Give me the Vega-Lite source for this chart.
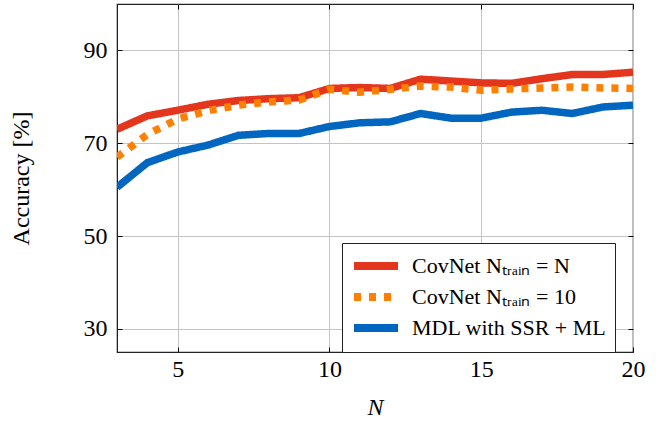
{
  "$schema": "https://vega.github.io/schema/vega-lite/v6.json",
  "width": 516,
  "height": 348,
  "autosize": "none",
  "padding": {"left": 117, "top": 4, "right": 33, "bottom": 72},
  "background": "white",
  "config": {
    "font": "Liberation Serif",
    "view": {"stroke": "#222", "strokeWidth": 1.2},
    "axis": {"labelFont": "Liberation Serif", "titleFont": "Liberation Serif", "labelColor": "black", "titleColor": "black", "titleFontWeight": "normal"},
    "legend": {"labelFont": "Liberation Serif"}
  },
  "data": {"values": [
    {"N": 3, "acc": 60.5, "series": "MDL with SSR + ML"},
    {"N": 4, "acc": 65.8, "series": "MDL with SSR + ML"},
    {"N": 5, "acc": 68.1, "series": "MDL with SSR + ML"},
    {"N": 6, "acc": 69.6, "series": "MDL with SSR + ML"},
    {"N": 7, "acc": 71.7, "series": "MDL with SSR + ML"},
    {"N": 8, "acc": 72.1, "series": "MDL with SSR + ML"},
    {"N": 9, "acc": 72.1, "series": "MDL with SSR + ML"},
    {"N": 10, "acc": 73.6, "series": "MDL with SSR + ML"},
    {"N": 11, "acc": 74.4, "series": "MDL with SSR + ML"},
    {"N": 12, "acc": 74.6, "series": "MDL with SSR + ML"},
    {"N": 13, "acc": 76.4, "series": "MDL with SSR + ML"},
    {"N": 14, "acc": 75.4, "series": "MDL with SSR + ML"},
    {"N": 15, "acc": 75.4, "series": "MDL with SSR + ML"},
    {"N": 16, "acc": 76.7, "series": "MDL with SSR + ML"},
    {"N": 17, "acc": 77.1, "series": "MDL with SSR + ML"},
    {"N": 18, "acc": 76.4, "series": "MDL with SSR + ML"},
    {"N": 19, "acc": 77.8, "series": "MDL with SSR + ML"},
    {"N": 20, "acc": 78.2, "series": "MDL with SSR + ML"},
    {"N": 3, "acc": 73.0, "series": "CovNet Nₜᵣₐᵢₙ = N"},
    {"N": 4, "acc": 75.9, "series": "CovNet Nₜᵣₐᵢₙ = N"},
    {"N": 5, "acc": 77.1, "series": "CovNet Nₜᵣₐᵢₙ = N"},
    {"N": 6, "acc": 78.4, "series": "CovNet Nₜᵣₐᵢₙ = N"},
    {"N": 7, "acc": 79.2, "series": "CovNet Nₜᵣₐᵢₙ = N"},
    {"N": 8, "acc": 79.6, "series": "CovNet Nₜᵣₐᵢₙ = N"},
    {"N": 9, "acc": 79.8, "series": "CovNet Nₜᵣₐᵢₙ = N"},
    {"N": 10, "acc": 81.8, "series": "CovNet Nₜᵣₐᵢₙ = N"},
    {"N": 11, "acc": 82.0, "series": "CovNet Nₜᵣₐᵢₙ = N"},
    {"N": 12, "acc": 81.8, "series": "CovNet Nₜᵣₐᵢₙ = N"},
    {"N": 13, "acc": 83.8, "series": "CovNet Nₜᵣₐᵢₙ = N"},
    {"N": 14, "acc": 83.4, "series": "CovNet Nₜᵣₐᵢₙ = N"},
    {"N": 15, "acc": 83.0, "series": "CovNet Nₜᵣₐᵢₙ = N"},
    {"N": 16, "acc": 82.9, "series": "CovNet Nₜᵣₐᵢₙ = N"},
    {"N": 17, "acc": 83.9, "series": "CovNet Nₜᵣₐᵢₙ = N"},
    {"N": 18, "acc": 84.8, "series": "CovNet Nₜᵣₐᵢₙ = N"},
    {"N": 19, "acc": 84.8, "series": "CovNet Nₜᵣₐᵢₙ = N"},
    {"N": 20, "acc": 85.3, "series": "CovNet Nₜᵣₐᵢₙ = N"},
    {"N": 3, "acc": 67.0, "series": "CovNet Nₜᵣₐᵢₙ = 10"},
    {"N": 4, "acc": 71.9, "series": "CovNet Nₜᵣₐᵢₙ = 10"},
    {"N": 5, "acc": 75.2, "series": "CovNet Nₜᵣₐᵢₙ = 10"},
    {"N": 6, "acc": 77.0, "series": "CovNet Nₜᵣₐᵢₙ = 10"},
    {"N": 7, "acc": 78.2, "series": "CovNet Nₜᵣₐᵢₙ = 10"},
    {"N": 8, "acc": 78.9, "series": "CovNet Nₜᵣₐᵢₙ = 10"},
    {"N": 9, "acc": 79.3, "series": "CovNet Nₜᵣₐᵢₙ = 10"},
    {"N": 10, "acc": 81.6, "series": "CovNet Nₜᵣₐᵢₙ = 10"},
    {"N": 11, "acc": 81.0, "series": "CovNet Nₜᵣₐᵢₙ = 10"},
    {"N": 12, "acc": 81.6, "series": "CovNet Nₜᵣₐᵢₙ = 10"},
    {"N": 13, "acc": 82.3, "series": "CovNet Nₜᵣₐᵢₙ = 10"},
    {"N": 14, "acc": 82.1, "series": "CovNet Nₜᵣₐᵢₙ = 10"},
    {"N": 15, "acc": 81.4, "series": "CovNet Nₜᵣₐᵢₙ = 10"},
    {"N": 16, "acc": 81.7, "series": "CovNet Nₜᵣₐᵢₙ = 10"},
    {"N": 17, "acc": 81.9, "series": "CovNet Nₜᵣₐᵢₙ = 10"},
    {"N": 18, "acc": 82.1, "series": "CovNet Nₜᵣₐᵢₙ = 10"},
    {"N": 19, "acc": 81.9, "series": "CovNet Nₜᵣₐᵢₙ = 10"},
    {"N": 20, "acc": 81.8, "series": "CovNet Nₜᵣₐᵢₙ = 10"}
  ]},
  "layer": [
    {
      "mark": {"type": "line", "strokeWidth": 7.5, "strokeCap": "butt", "strokeJoin": "miter", "clip": true},
      "encoding": {
        "x": {"field": "N", "type": "quantitative", "scale": {"domain": [3, 20], "nice": false, "zero": false},
          "axis": {"values": [5, 10, 15, 20], "title": "N", "titleFont": "Liberation Serif", "labelFont": "Liberation Serif", "titleFontStyle": "italic", "titleFontSize": 24, "labelFontSize": 24, "labelPadding": 10, "labelFlush": false, "tickSize": -5, "tickColor": "black", "domainColor": "#222", "gridColor": "#c4c4c4", "gridWidth": 1, "titlePadding": 14}},
        "y": {"field": "acc", "type": "quantitative", "scale": {"domain": [25, 100], "nice": false, "zero": false},
          "axis": {"values": [30, 50, 70, 90], "title": "Accuracy [%]", "titleFont": "Liberation Serif", "labelFont": "Liberation Serif", "titleFontSize": 24, "labelFontSize": 24, "labelPadding": 15, "labelFlush": false, "tickSize": -5, "tickColor": "black", "domainColor": "#222", "gridColor": "#c4c4c4", "gridWidth": 1, "titleX": -84}},
        "color": {"field": "series", "type": "nominal",
          "scale": {"domain": ["CovNet Nₜᵣₐᵢₙ = N", "CovNet Nₜᵣₐᵢₙ = 10", "MDL with SSR + ML"], "range": ["#e4361d", "#ff8000", "#0066bf"]},
          "legend": {"title": null, "orient": "none", "legendX": 225, "legendY": 239, "labelFont": "Liberation Serif", "labelFontSize": 22, "labelColor": "black", "symbolType": "M-1,0H3", "symbolStrokeWidth": 8, "symbolSize": 484, "rowPadding": -1, "padding": 8, "strokeColor": "#222", "fillColor": "white", "labelOffset": 32, "labelLimit": 400}},
        "strokeDash": {"field": "series", "type": "nominal",
          "scale": {"domain": ["CovNet Nₜᵣₐᵢₙ = N", "CovNet Nₜᵣₐᵢₙ = 10", "MDL with SSR + ML"], "range": [[1, 0], [7, 8], [1, 0]]},
          "legend": {"title": null}},
        "order": {"field": "N", "type": "quantitative"}
      }
    },
    {
      "mark": {"type": "line", "strokeOpacity": 0},
      "encoding": {
        "x": {"field": "N", "type": "quantitative", "axis": {"orient": "top", "values": [5, 10, 15, 20], "labels": false, "title": null, "grid": false, "domain": false, "tickSize": -5, "tickColor": "black"}},
        "y": {"field": "acc", "type": "quantitative", "axis": {"orient": "right", "values": [30, 50, 70, 90], "labels": false, "title": null, "grid": false, "domain": false, "tickSize": -5, "tickColor": "black"}},
        "detail": {"field": "series"}
      }
    }
  ],
  "resolve": {"axis": {"x": "independent", "y": "independent"}}
}
